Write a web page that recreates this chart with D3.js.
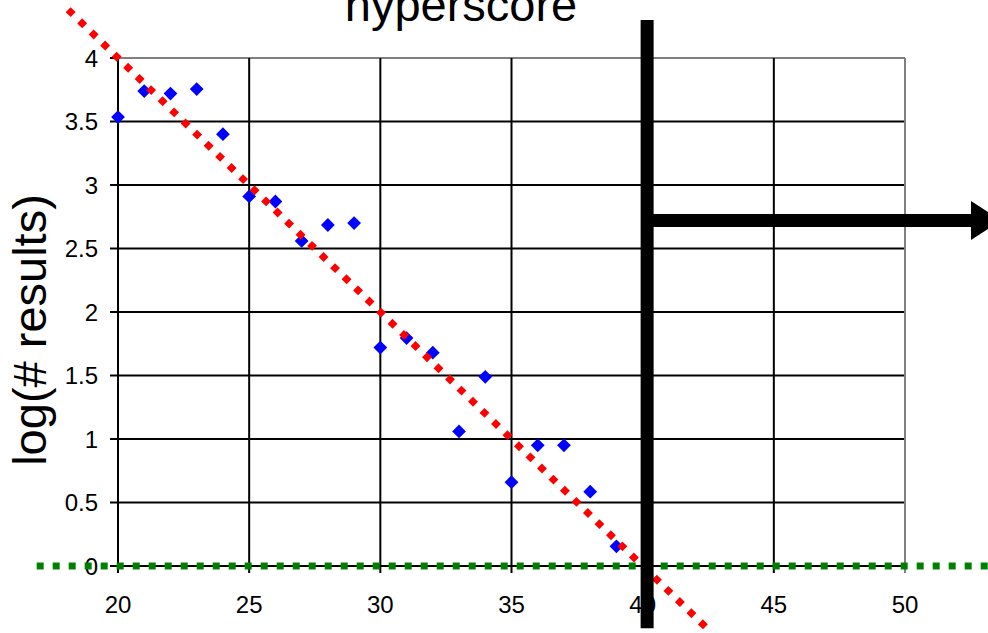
<!DOCTYPE html>
<html>
<head>
<meta charset="utf-8">
<script src="https://cdn.jsdelivr.net/npm/d3@7"></script>
<style>
  body { margin: 0; background: #fff; }
  svg text { font-family: "Liberation Sans", Arial, sans-serif; fill: #000; }
</style>
</head>
<body>
<div id="chart"></div>
<script>
// hyperscore vs log(# results)
var scores = [20, 21, 22, 23, 24, 25, 26, 27, 28, 29, 30, 31, 32, 33, 34, 35, 36, 37, 38, 39];
var logCounts = [3.535, 3.74, 3.72, 3.755, 3.40, 2.91, 2.87, 2.56, 2.685, 2.70,
                 1.72, 1.795, 1.68, 1.06, 1.49, 0.66, 0.95, 0.95, 0.585, 0.155];

var xTicks = [20, 25, 30, 35, 40, 45, 50];
var yTicks = [0, 0.5, 1, 1.5, 2, 2.5, 3, 3.5, 4];

// fitted trend line (red) and zero baseline (green)
var trendX = [18.1, 42.45];
var trendY = [4.38, -0.49];
var zeroX = [16.9, 54];
var zeroY = [0, 0];

// threshold marker and arrow
var cutoffX = 40.17;
var cutoffTop = 4.3;
var cutoffBottom = -0.49;
var arrowY = 2.72;
var arrowEndX = 53.66;

var width = 988, height = 633;

var svg = d3.select("#chart")
	.append("svg")
	.attr("width", width)
	.attr("height", height);

var x = d3.scaleLinear().domain([20, 50]).range([118, 905]);
var y = d3.scaleLinear().domain([0, 4]).range([566, 58]);

// grid
svg.append("g")
	.selectAll("line")
	.data(yTicks)
	.enter()
	.append("line")
	.attr("x1", x(20) - 8)
	.attr("x2", x(50))
	.attr("y1", function (d) { return y(d); })
	.attr("y2", function (d) { return y(d); })
	.style("stroke", function (d) { return d === 4 ? "#808080" : "#000"; })
	.style("stroke-width", 2);

svg.append("g")
	.selectAll("line")
	.data(xTicks)
	.enter()
	.append("line")
	.attr("x1", function (d) { return x(d); })
	.attr("x2", function (d) { return x(d); })
	.attr("y1", y(4))
	.attr("y2", y(0) + 7)
	.style("stroke", function (d) { return d === 50 ? "#808080" : "#000"; })
	.style("stroke-width", 2);

// left tick stub at y=4 is black
svg.append("line")
	.attr("x1", x(20) - 8).attr("x2", x(20))
	.attr("y1", y(4)).attr("y2", y(4))
	.style("stroke", "#000").style("stroke-width", 2);

// tick labels
svg.append("g")
	.selectAll("text")
	.data(yTicks)
	.enter()
	.append("text")
	.attr("x", 98)
	.attr("y", function (d) { return y(d); })
	.attr("dy", "0.36em")
	.attr("text-anchor", "end")
	.style("font-size", "24px")
	.text(function (d) { return d; });

svg.append("g")
	.selectAll("text")
	.data(xTicks)
	.enter()
	.append("text")
	.attr("x", function (d) { return x(d); })
	.attr("y", 613)
	.attr("text-anchor", "middle")
	.style("font-size", "24px")
	.text(function (d) { return d; });

// titles
svg.append("text")
	.attr("x", 461)
	.attr("y", 21)
	.attr("text-anchor", "middle")
	.style("font-size", "47px")
	.text("hyperscore");

svg.append("text")
	.attr("transform", "translate(46,330) rotate(-90)")
	.attr("text-anchor", "middle")
	.style("font-size", "47px")
	.text("log(# results)");

// data points
svg.append("g")
	.selectAll("path")
	.data(scores)
	.enter()
	.append("path")
	.attr("d", d3.symbol(d3.symbolSquare, 95))
	.attr("transform", function (d, i) {
		return "translate(" + x(d) + "," + y(logCounts[i]) + ") rotate(45)";
	})
	.attr("fill", "#0000ff");

var line = d3.line()
	.x(function (d) { return x(d[0]); })
	.y(function (d) { return y(d[1]); });

// zero line
svg.append("path")
	.attr("d", line(d3.zip(zeroX, zeroY)))
	.attr("fill", "none")
	.style("stroke", "#008000")
	.style("stroke-width", 7)
	.style("stroke-dasharray", "7,9");

// trend line
svg.append("path")
	.attr("d", line(d3.zip(trendX, trendY)))
	.attr("fill", "none")
	.style("stroke", "#ff0000")
	.style("stroke-width", 7)
	.style("stroke-dasharray", "7,9");

// cutoff marker
svg.append("line")
	.attr("x1", x(cutoffX)).attr("x2", x(cutoffX))
	.attr("y1", y(cutoffTop)).attr("y2", y(cutoffBottom))
	.style("stroke", "#000")
	.style("stroke-width", 13);

var ax0 = x(cutoffX), ay = y(arrowY), ax1 = x(arrowEndX);
svg.append("line")
	.attr("x1", ax0).attr("x2", ax1 - 28)
	.attr("y1", ay).attr("y2", ay)
	.style("stroke", "#000")
	.style("stroke-width", 13);

svg.append("path")
	.attr("d", "M" + (ax1 - 30) + "," + (ay - 19.5) + "L" + ax1 + "," + ay + "L" + (ax1 - 30) + "," + (ay + 19.5) + "Z")
	.attr("fill", "#000");
</script>
</body>
</html>
